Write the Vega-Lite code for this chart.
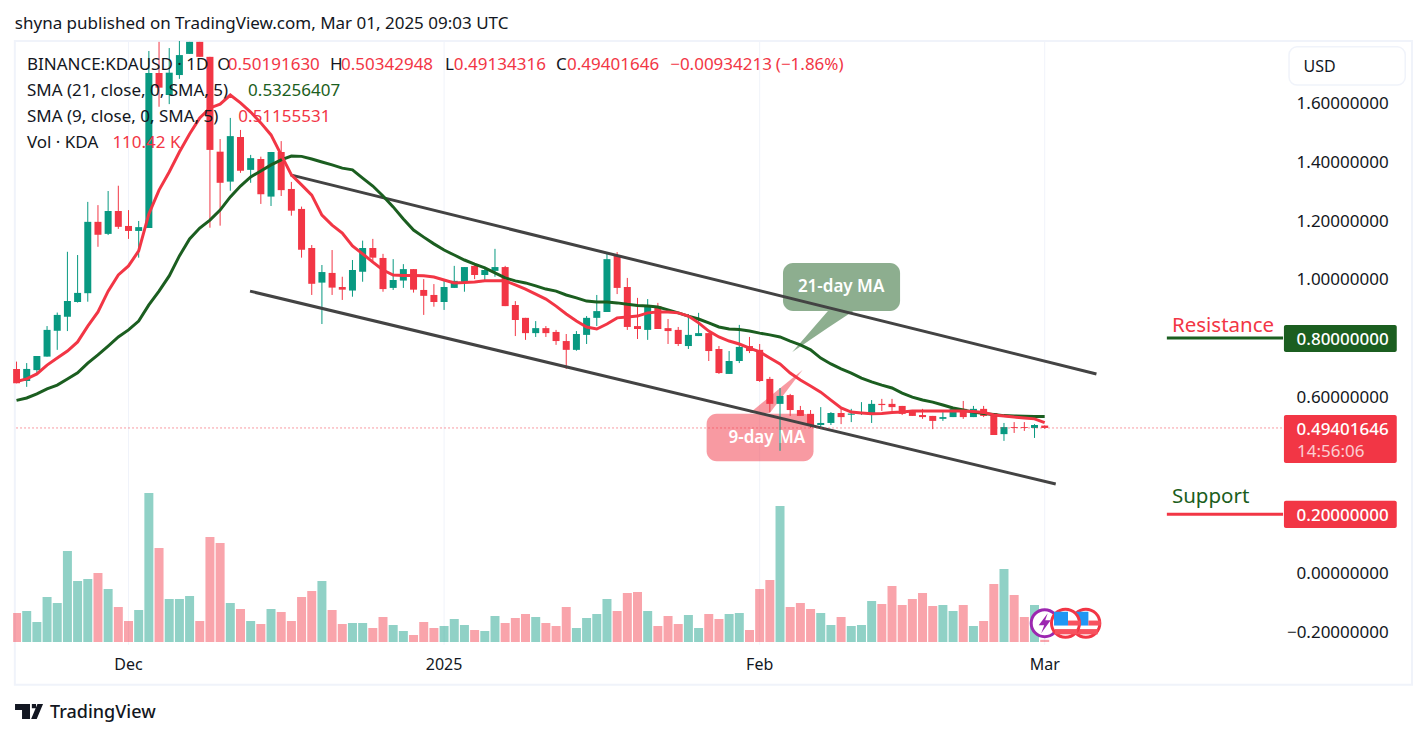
{
"$schema":"https://vega.github.io/schema/vega-lite/v6.json",
"width":1427,"height":738,"padding":0,
"autosize":{"type":"none"},
"background":"white",
"config":{"view":{"stroke":null},"axis":{"disable":true},"legend":{"disable":true},"text":{"font":"Noto Sans"}},
"datasets":{
"candles":[
{"date":"2024-11-20","open":0.695,"high":0.720,"low":0.646,"close":0.646,"volume":1450,"sma21":0.588,"sma9":0.652},
{"date":"2024-11-21","open":0.654,"high":0.715,"low":0.634,"close":0.695,"volume":1550,"sma21":0.596,"sma9":0.661},
{"date":"2024-11-22","open":0.691,"high":0.739,"low":0.674,"close":0.739,"volume":1000,"sma21":0.610,"sma9":0.678},
{"date":"2024-11-23","open":0.737,"high":0.841,"low":0.737,"close":0.828,"volume":2250,"sma21":0.627,"sma9":0.708},
{"date":"2024-11-24","open":0.825,"high":0.887,"low":0.760,"close":0.879,"volume":1950,"sma21":0.640,"sma9":0.732},
{"date":"2024-11-25","open":0.873,"high":1.094,"low":0.824,"close":0.926,"volume":4550,"sma21":0.661,"sma9":0.756},
{"date":"2024-11-26","open":0.923,"high":1.083,"low":0.921,"close":0.954,"volume":3050,"sma21":0.682,"sma9":0.787},
{"date":"2024-11-27","open":0.953,"high":1.264,"low":0.924,"close":1.196,"volume":3150,"sma21":0.715,"sma9":0.841},
{"date":"2024-11-28","open":1.196,"high":1.253,"low":1.111,"close":1.152,"volume":3450,"sma21":0.743,"sma9":0.889},
{"date":"2024-11-29","open":1.155,"high":1.301,"low":1.151,"close":1.233,"volume":2650,"sma21":0.773,"sma9":0.960},
{"date":"2024-11-30","open":1.233,"high":1.319,"low":1.172,"close":1.179,"volume":1750,"sma21":0.804,"sma9":1.015},
{"date":"2024-12-01","open":1.182,"high":1.236,"low":1.138,"close":1.165,"volume":1050,"sma21":0.828,"sma9":1.046},
{"date":"2024-12-02","open":1.165,"high":1.199,"low":1.074,"close":1.178,"volume":1600,"sma21":0.858,"sma9":1.097},
{"date":"2024-12-03","open":1.175,"high":1.778,"low":1.175,"close":1.703,"volume":7450,"sma21":0.913,"sma9":1.223},
{"date":"2024-12-04","open":1.703,"high":1.809,"low":1.588,"close":1.653,"volume":4700,"sma21":0.960,"sma9":1.304},
{"date":"2024-12-05","open":1.628,"high":1.788,"low":1.597,"close":1.704,"volume":2150,"sma21":1.012,"sma9":1.366},
{"date":"2024-12-06","open":1.696,"high":1.812,"low":1.683,"close":1.764,"volume":2150,"sma21":1.080,"sma9":1.434},
{"date":"2024-12-07","open":1.768,"high":1.809,"low":1.768,"close":1.809,"volume":2300,"sma21":1.138,"sma9":1.495},
{"date":"2024-12-08","open":1.809,"high":1.809,"low":1.758,"close":1.758,"volume":1050,"sma21":1.175,"sma9":1.550},
{"date":"2024-12-09","open":1.758,"high":1.758,"low":1.176,"close":1.441,"volume":5250,"sma21":1.202,"sma9":1.584},
{"date":"2024-12-10","open":1.435,"high":1.478,"low":1.183,"close":1.329,"volume":4950,"sma21":1.236,"sma9":1.597},
{"date":"2024-12-11","open":1.333,"high":1.550,"low":1.302,"close":1.488,"volume":1950,"sma21":1.281,"sma9":1.628},
{"date":"2024-12-12","open":1.485,"high":1.509,"low":1.363,"close":1.370,"volume":1650,"sma21":1.318,"sma9":1.601},
{"date":"2024-12-13","open":1.373,"high":1.424,"low":1.329,"close":1.413,"volume":1050,"sma21":1.349,"sma9":1.570},
{"date":"2024-12-14","open":1.410,"high":1.418,"low":1.257,"close":1.290,"volume":900,"sma21":1.369,"sma9":1.533},
{"date":"2024-12-15","open":1.282,"high":1.434,"low":1.250,"close":1.434,"volume":1650,"sma21":1.390,"sma9":1.492},
{"date":"2024-12-16","open":1.434,"high":1.471,"low":1.284,"close":1.304,"volume":1500,"sma21":1.407,"sma9":1.424},
{"date":"2024-12-17","open":1.308,"high":1.332,"low":1.217,"close":1.234,"volume":1050,"sma21":1.420,"sma9":1.356},
{"date":"2024-12-18","open":1.240,"high":1.248,"low":1.074,"close":1.101,"volume":2250,"sma21":1.419,"sma9":1.322},
{"date":"2024-12-19","open":1.107,"high":1.117,"low":0.947,"close":0.985,"volume":2550,"sma21":1.410,"sma9":1.287},
{"date":"2024-12-20","open":0.989,"high":1.049,"low":0.848,"close":1.025,"volume":3050,"sma21":1.400,"sma9":1.219},
{"date":"2024-12-21","open":1.022,"high":1.100,"low":0.947,"close":0.972,"volume":1600,"sma21":1.390,"sma9":1.185},
{"date":"2024-12-22","open":0.974,"high":1.009,"low":0.930,"close":0.965,"volume":900,"sma21":1.379,"sma9":1.158},
{"date":"2024-12-23","open":0.962,"high":1.066,"low":0.941,"close":1.032,"volume":950,"sma21":1.373,"sma9":1.114},
{"date":"2024-12-24","open":1.026,"high":1.132,"low":0.992,"close":1.107,"volume":950,"sma21":1.345,"sma9":1.087},
{"date":"2024-12-25","open":1.107,"high":1.138,"low":1.056,"close":1.074,"volume":700,"sma21":1.318,"sma9":1.059},
{"date":"2024-12-26","open":1.073,"high":1.087,"low":0.958,"close":0.967,"volume":1250,"sma21":1.284,"sma9":1.032},
{"date":"2024-12-27","open":0.971,"high":1.069,"low":0.964,"close":0.998,"volume":850,"sma21":1.247,"sma9":1.015},
{"date":"2024-12-28","open":0.996,"high":1.052,"low":0.971,"close":1.035,"volume":550,"sma21":1.206,"sma9":1.013},
{"date":"2024-12-29","open":1.035,"high":1.035,"low":0.955,"close":0.965,"volume":350,"sma21":1.168,"sma9":1.013},
{"date":"2024-12-30","open":0.964,"high":1.001,"low":0.879,"close":0.944,"volume":1000,"sma21":1.144,"sma9":1.012},
{"date":"2024-12-31","open":0.947,"high":0.984,"low":0.907,"close":0.923,"volume":700,"sma21":1.121,"sma9":1.008},
{"date":"2025-01-01","open":0.923,"high":0.995,"low":0.896,"close":0.974,"volume":800,"sma21":1.100,"sma9":0.998},
{"date":"2025-01-02","open":0.971,"high":1.046,"low":0.971,"close":0.995,"volume":1150,"sma21":1.083,"sma9":0.988},
{"date":"2025-01-03","open":0.991,"high":1.042,"low":0.958,"close":1.042,"volume":850,"sma21":1.066,"sma9":0.989},
{"date":"2025-01-04","open":1.046,"high":1.056,"low":1.001,"close":1.015,"volume":600,"sma21":1.052,"sma9":0.991},
{"date":"2025-01-05","open":1.015,"high":1.043,"low":0.996,"close":1.032,"volume":550,"sma21":1.039,"sma9":0.995},
{"date":"2025-01-06","open":1.029,"high":1.104,"low":1.009,"close":1.042,"volume":1300,"sma21":1.022,"sma9":0.995},
{"date":"2025-01-07","open":1.042,"high":1.046,"low":0.909,"close":0.909,"volume":950,"sma21":1.005,"sma9":0.995},
{"date":"2025-01-08","open":0.913,"high":0.926,"low":0.807,"close":0.862,"volume":1200,"sma21":0.995,"sma9":0.981},
{"date":"2025-01-09","open":0.869,"high":0.869,"low":0.794,"close":0.817,"volume":1400,"sma21":0.988,"sma9":0.967},
{"date":"2025-01-10","open":0.817,"high":0.858,"low":0.804,"close":0.834,"volume":1250,"sma21":0.978,"sma9":0.950},
{"date":"2025-01-11","open":0.834,"high":0.841,"low":0.804,"close":0.817,"volume":950,"sma21":0.967,"sma9":0.933},
{"date":"2025-01-12","open":0.821,"high":0.828,"low":0.777,"close":0.790,"volume":800,"sma21":0.960,"sma9":0.909},
{"date":"2025-01-13","open":0.790,"high":0.814,"low":0.695,"close":0.760,"volume":1750,"sma21":0.947,"sma9":0.882},
{"date":"2025-01-14","open":0.760,"high":0.824,"low":0.757,"close":0.814,"volume":700,"sma21":0.937,"sma9":0.858},
{"date":"2025-01-15","open":0.811,"high":0.875,"low":0.780,"close":0.869,"volume":1200,"sma21":0.926,"sma9":0.838},
{"date":"2025-01-16","open":0.869,"high":0.947,"low":0.841,"close":0.892,"volume":1400,"sma21":0.923,"sma9":0.831},
{"date":"2025-01-17","open":0.889,"high":1.087,"low":0.889,"close":1.069,"volume":2150,"sma21":0.923,"sma9":0.848},
{"date":"2025-01-18","open":1.083,"high":1.093,"low":0.950,"close":0.971,"volume":1550,"sma21":0.920,"sma9":0.869},
{"date":"2025-01-19","open":0.974,"high":1.005,"low":0.828,"close":0.838,"volume":2450,"sma21":0.915,"sma9":0.872},
{"date":"2025-01-20","open":0.841,"high":0.937,"low":0.797,"close":0.831,"volume":2500,"sma21":0.911,"sma9":0.875},
{"date":"2025-01-21","open":0.828,"high":0.933,"low":0.794,"close":0.909,"volume":1550,"sma21":0.909,"sma9":0.886},
{"date":"2025-01-22","open":0.909,"high":0.920,"low":0.831,"close":0.831,"volume":800,"sma21":0.906,"sma9":0.889},
{"date":"2025-01-23","open":0.834,"high":0.865,"low":0.780,"close":0.824,"volume":1300,"sma21":0.896,"sma9":0.889},
{"date":"2025-01-24","open":0.828,"high":0.838,"low":0.773,"close":0.780,"volume":900,"sma21":0.886,"sma9":0.886},
{"date":"2025-01-25","open":0.773,"high":0.882,"low":0.763,"close":0.811,"volume":1350,"sma21":0.875,"sma9":0.875},
{"date":"2025-01-26","open":0.807,"high":0.886,"low":0.807,"close":0.817,"volume":700,"sma21":0.865,"sma9":0.852},
{"date":"2025-01-27","open":0.817,"high":0.817,"low":0.722,"close":0.756,"volume":1400,"sma21":0.852,"sma9":0.824},
{"date":"2025-01-28","open":0.763,"high":0.773,"low":0.678,"close":0.681,"volume":1150,"sma21":0.838,"sma9":0.804},
{"date":"2025-01-29","open":0.678,"high":0.756,"low":0.678,"close":0.722,"volume":1400,"sma21":0.831,"sma9":0.790},
{"date":"2025-01-30","open":0.722,"high":0.845,"low":0.715,"close":0.770,"volume":1450,"sma21":0.829,"sma9":0.780},
{"date":"2025-01-31","open":0.773,"high":0.804,"low":0.749,"close":0.756,"volume":600,"sma21":0.824,"sma9":0.766},
{"date":"2025-02-01","open":0.760,"high":0.780,"low":0.651,"close":0.654,"volume":2650,"sma21":0.817,"sma9":0.753},
{"date":"2025-02-02","open":0.661,"high":0.668,"low":0.548,"close":0.576,"volume":3100,"sma21":0.811,"sma9":0.732},
{"date":"2025-02-03","open":0.576,"high":0.630,"low":0.416,"close":0.603,"volume":6800,"sma21":0.804,"sma9":0.712},
{"date":"2025-02-04","open":0.606,"high":0.610,"low":0.535,"close":0.555,"volume":1750,"sma21":0.790,"sma9":0.681},
{"date":"2025-02-05","open":0.555,"high":0.569,"low":0.535,"close":0.535,"volume":1950,"sma21":0.777,"sma9":0.657},
{"date":"2025-02-06","open":0.542,"high":0.555,"low":0.494,"close":0.504,"volume":1650,"sma21":0.760,"sma9":0.637},
{"date":"2025-02-07","open":0.504,"high":0.565,"low":0.490,"close":0.511,"volume":1450,"sma21":0.732,"sma9":0.616},
{"date":"2025-02-08","open":0.511,"high":0.548,"low":0.504,"close":0.545,"volume":850,"sma21":0.712,"sma9":0.589},
{"date":"2025-02-09","open":0.545,"high":0.559,"low":0.507,"close":0.531,"volume":1250,"sma21":0.695,"sma9":0.562},
{"date":"2025-02-10","open":0.539,"high":0.559,"low":0.514,"close":0.543,"volume":800,"sma21":0.681,"sma9":0.548},
{"date":"2025-02-11","open":0.542,"high":0.582,"low":0.538,"close":0.545,"volume":850,"sma21":0.664,"sma9":0.545},
{"date":"2025-02-12","open":0.542,"high":0.589,"low":0.511,"close":0.576,"volume":2050,"sma21":0.651,"sma9":0.542},
{"date":"2025-02-13","open":0.576,"high":0.593,"low":0.552,"close":0.572,"volume":1900,"sma21":0.640,"sma9":0.543},
{"date":"2025-02-14","open":0.576,"high":0.593,"low":0.552,"close":0.565,"volume":2800,"sma21":0.630,"sma9":0.547},
{"date":"2025-02-15","open":0.569,"high":0.569,"low":0.538,"close":0.542,"volume":1850,"sma21":0.613,"sma9":0.548},
{"date":"2025-02-16","open":0.552,"high":0.552,"low":0.535,"close":0.535,"volume":2150,"sma21":0.599,"sma9":0.552},
{"date":"2025-02-17","open":0.538,"high":0.559,"low":0.525,"close":0.531,"volume":2450,"sma21":0.589,"sma9":0.552},
{"date":"2025-02-18","open":0.535,"high":0.535,"low":0.490,"close":0.518,"volume":1800,"sma21":0.582,"sma9":0.552},
{"date":"2025-02-19","open":0.525,"high":0.548,"low":0.518,"close":0.531,"volume":1850,"sma21":0.572,"sma9":0.552},
{"date":"2025-02-20","open":0.531,"high":0.559,"low":0.531,"close":0.559,"volume":1550,"sma21":0.562,"sma9":0.552},
{"date":"2025-02-21","open":0.559,"high":0.586,"low":0.525,"close":0.531,"volume":1850,"sma21":0.555,"sma9":0.552},
{"date":"2025-02-22","open":0.531,"high":0.569,"low":0.531,"close":0.559,"volume":800,"sma21":0.548,"sma9":0.550},
{"date":"2025-02-23","open":0.559,"high":0.569,"low":0.531,"close":0.535,"volume":1050,"sma21":0.543,"sma9":0.547},
{"date":"2025-02-24","open":0.545,"high":0.545,"low":0.470,"close":0.470,"volume":2900,"sma21":0.540,"sma9":0.538},
{"date":"2025-02-25","open":0.473,"high":0.511,"low":0.450,"close":0.497,"volume":3650,"sma21":0.536,"sma9":0.535},
{"date":"2025-02-26","open":0.497,"high":0.514,"low":0.477,"close":0.494,"volume":2350,"sma21":0.535,"sma9":0.531},
{"date":"2025-02-27","open":0.497,"high":0.514,"low":0.484,"close":0.494,"volume":1250,"sma21":0.534,"sma9":0.528},
{"date":"2025-02-28","open":0.494,"high":0.507,"low":0.460,"close":0.504,"volume":1850,"sma21":0.533,"sma9":0.525},
{"date":"2025-03-01","open":0.502,"high":0.503,"low":0.491,"close":0.494,"volume":110.42,"sma21":0.533,"sma9":0.512}
],
"frame":[{"date":"2024-11-19T20:00:00Z","date2":"2025-04-06T02:00:00Z","price":1.812,"price2":-0.381}],
"gridX":[
{"date":"2024-12-01","price":1.812,"price2":-0.245},
{"date":"2025-01-01","price":1.812,"price2":-0.245},
{"date":"2025-02-01","price":1.812,"price2":-0.245},
{"date":"2025-03-01","price":1.812,"price2":-0.245}],
"gridY":[{"price":1.8},{"price":1.6},{"price":1.4},{"price":1.2},{"price":1.0},{"price":0.8},{"price":0.6},{"price":0.4},{"price":0.2},{"price":0.0},{"price":-0.2}],
"boxes":[
{"name":"21-day MA","date":"2025-02-03T07:00:00Z","date2":"2025-02-14T19:00:00Z","price":1.056,"price2":0.892},
{"name":"9-day MA","date":"2025-01-26T19:00:00Z","date2":"2025-02-06T07:00:00Z","price":0.542,"price2":0.381}],
"tails":[
{"name":"21-day MA","date":"2025-02-04T05:00:00Z","price":0.753,"price2":0.753},
{"name":"21-day MA","date":"2025-02-07T17:00:00Z","price":0.892,"price2":0.835},
{"name":"21-day MA","date":"2025-02-10T05:00:00Z","price":0.892,"price2":0.892},
{"name":"9-day MA","date":"2025-01-31T01:00:00Z","price":0.545,"price2":0.545},
{"name":"9-day MA","date":"2025-02-02T00:00:00Z","price":0.601,"price2":0.545},
{"name":"9-day MA","date":"2025-02-05T05:00:00Z","price":0.691,"price2":0.691}],
"boxText":[
{"date":"2025-02-09T00:00:00Z","price":0.974,"label":"21-day MA"},
{"date":"2025-02-01T17:00:00Z","price":0.460,"label":"9-day MA"}],
"channel":[
{"name":"upper","date":"2024-12-16T22:00:00Z","price":1.356},
{"name":"upper","date":"2025-03-06T02:00:00Z","price":0.678},
{"name":"lower","date":"2024-12-12T22:30:00Z","price":0.960},
{"name":"lower","date":"2025-03-02T02:00:00Z","price":0.303}],
"levels":[
{"name":"Resistance","date":"2025-03-13T00:00:00Z","date2":"2025-03-24T10:00:00Z","price":0.8},
{"name":"Support","date":"2025-03-13T00:00:00Z","date2":"2025-03-24T10:00:00Z","price":0.2}],
"last":[{"date":"2024-11-20","date2":"2025-03-24T10:00:00Z","price":0.494}],
"mask":[{"date":"2024-11-18T10:00:00Z","date2":"2024-11-19T16:00:00Z","price":1.81,"price2":-0.245}],
"tags":[
{"name":"Resistance","date":"2025-03-24T12:00:00Z","date2":"2025-04-04T14:00:00Z","price":0.845,"price2":0.753},
{"name":"Last","date":"2025-03-24T12:00:00Z","date2":"2025-04-04T14:00:00Z","price":0.538,"price2":0.375},
{"name":"Support","date":"2025-03-24T12:00:00Z","date2":"2025-04-04T14:00:00Z","price":0.246,"price2":0.153}],
"usdBox":[{"date":"2025-03-25T00:00:00Z","date2":"2025-04-05T10:00:00Z","price":1.792,"price2":1.662}],
"levelText":[
{"date":"2025-03-13T12:00:00Z","price":0.841,"label":"Resistance"},
{"date":"2025-03-13T12:00:00Z","price":0.259,"label":"Support"}],
"axisY":[
{"date":"2025-04-03T19:00:00Z","price":1.6,"label":"1.60000000"},
{"date":"2025-04-03T19:00:00Z","price":1.4,"label":"1.40000000"},
{"date":"2025-04-03T19:00:00Z","price":1.2,"label":"1.20000000"},
{"date":"2025-04-03T19:00:00Z","price":1.0,"label":"1.00000000"},
{"date":"2025-04-03T19:00:00Z","price":0.6,"label":"0.60000000"},
{"date":"2025-04-03T19:00:00Z","price":0.0,"label":"0.00000000"},
{"date":"2025-04-03T19:00:00Z","price":-0.2,"label":"−0.20000000"}],
"tagText":[
{"date":"2025-04-03T19:00:00Z","price":0.797,"label":"0.80000000"},
{"date":"2025-04-03T19:00:00Z","price":0.490,"label":"0.49401646"},
{"date":"2025-04-03T19:00:00Z","price":0.198,"label":"0.20000000"}],
"countdown":[{"date":"2025-03-25T19:00:00Z","price":0.4155,"label":"14:56:06"}],
"axisX":[
{"date":"2024-12-01","price":-0.31,"label":"Dec"},
{"date":"2025-01-01","price":-0.31,"label":"2025"},
{"date":"2025-02-01","price":-0.31,"label":"Feb"},
{"date":"2025-03-01","price":-0.31,"label":"Mar"}],
"usdText":[{"date":"2025-03-26T10:00:00Z","price":1.727,"label":"USD"}],
"legendText":[
{"date":"2024-11-19T20:00:00Z","price":1.873,"label":"shyna published on TradingView.com, Mar 01, 2025 09:03 UTC","role":"dark"},
{"date":"2024-11-21T00:30:00Z","price":1.734,"label":"BINANCE:KDAUSD · 1D","role":"dark"},
{"date":"2024-12-09T17:00:00Z","price":1.734,"label":"O","role":"dark"},
{"date":"2024-12-10T18:00:00Z","price":1.734,"label":"0.50191630","role":"red"},
{"date":"2024-12-20T19:00:00Z","price":1.734,"label":"H","role":"dark"},
{"date":"2024-12-21T21:00:00Z","price":1.734,"label":"0.50342948","role":"red"},
{"date":"2025-01-01T02:00:00Z","price":1.734,"label":"L","role":"dark"},
{"date":"2025-01-01T23:00:00Z","price":1.734,"label":"0.49134316","role":"red"},
{"date":"2025-01-12T00:00:00Z","price":1.734,"label":"C","role":"dark"},
{"date":"2025-01-13T02:00:00Z","price":1.734,"label":"0.49401646","role":"red"},
{"date":"2025-01-23T05:00:00Z","price":1.734,"label":"−0.00934213","role":"red"},
{"date":"2025-02-02T14:00:00Z","price":1.734,"label":"(−1.86%)","role":"red"},
{"date":"2024-11-21T00:30:00Z","price":1.645,"label":"SMA (21, close, 0, SMA, 5)","role":"dark"},
{"date":"2024-12-12T18:00:00Z","price":1.645,"label":"0.53256407","role":"green"},
{"date":"2024-11-21T00:30:00Z","price":1.557,"label":"SMA (9, close, 0, SMA, 5)","role":"dark"},
{"date":"2024-12-11T19:00:00Z","price":1.557,"label":"0.51155531","role":"red"},
{"date":"2024-11-21T00:30:00Z","price":1.468,"label":"Vol · KDA","role":"dark"},
{"date":"2024-11-29T10:00:00Z","price":1.468,"label":"110.42 K","role":"red"}],
"icons":[
{"name":"flag2","date":"2025-03-05T01:00:00Z","price":-0.171},
{"name":"bolt","date":"2025-03-01T00:00:00Z","price":-0.171},
{"name":"flag1","date":"2025-03-03T01:00:00Z","price":-0.171}],
"flagParts":[
{"flag":"flag2","part":"blue","date":"2025-03-03T22:00:00Z","date2":"2025-03-05T07:00:00Z","price":-0.132,"price2":-0.179},
{"flag":"flag2","part":"red","date":"2025-03-05T07:00:00Z","date2":"2025-03-06T12:00:00Z","price":-0.162,"price2":-0.179},
{"flag":"flag2","part":"red","date":"2025-03-04T00:00:00Z","date2":"2025-03-06T05:00:00Z","price":-0.191,"price2":-0.209},
{"flag":"flag1","part":"blue","date":"2025-03-01T22:00:00Z","date2":"2025-03-03T07:00:00Z","price":-0.132,"price2":-0.179},
{"flag":"flag1","part":"red","date":"2025-03-03T07:00:00Z","date2":"2025-03-04T12:00:00Z","price":-0.162,"price2":-0.179},
{"flag":"flag1","part":"red","date":"2025-03-02T00:00:00Z","date2":"2025-03-04T05:00:00Z","price":-0.191,"price2":-0.209}],
"logo":[{"date":"2024-11-21T05:30:00Z","price":-0.470}],
"logoText":[{"date":"2024-11-23T07:00:00Z","price":-0.477,"label":"TradingView"}]
},
"encoding":{"x":{"field":"date","type":"temporal","scale":{"type":"utc","padding":0,"domain":[1731920590945,1744031868155]}}},
"resolve":{"scale":{"y":"independent"}},
"layer":[
{"encoding":{"y":{"field":"price","type":"quantitative","scale":{"domain":[-0.562,1.9516],"zero":false,"nice":false}}},
 "layer":[
 {"data":{"name":"frame","format":{"parse":{"date":"date","date2":"date"}}},"mark":{"type":"rect","fill":"white","stroke":"#f0f3fa","strokeWidth":2},"encoding":{"x2":{"field":"date2"},"y2":{"field":"price2"}}},
 {"data":{"name":"gridX"},"mark":{"type":"rule","stroke":"#f0f3fa","strokeWidth":1},"encoding":{"y2":{"field":"price2"}}},
 {"data":{"name":"gridY"},"mark":{"type":"rule","stroke":"#f0f3fa","strokeWidth":1},"encoding":{"x":{"datum":{"year":2024,"month":11,"date":20}},"x2":{"datum":{"year":2025,"month":3,"date":24}}}}
 ]},
{"data":{"name":"candles"},"mark":{"type":"bar","width":9,"opacity":0.45},
 "encoding":{"y":{"field":"volume","type":"quantitative","scale":{"domain":[0,32100],"range":[642,0],"zero":false,"nice":false}},
 "color":{"condition":{"test":"datum.close>=datum.open","value":"#089981"},"value":"#F23645"}}},
{"encoding":{"y":{"field":"price","type":"quantitative","scale":{"domain":[-0.562,1.9516],"zero":false,"nice":false}}},
 "resolve":{"scale":{"color":"independent"}},
 "layer":[
 {"data":{"name":"boxes","format":{"parse":{"date":"date","date2":"date"}}},"mark":{"type":"rect","cornerRadius":10,"opacity":0.5},"encoding":{"x2":{"field":"date2"},"y2":{"field":"price2"},"color":{"field":"name","type":"nominal","scale":{"domain":["21-day MA","9-day MA"],"range":["#1b5e20","#F23645"]}}}},
 {"data":{"name":"tails"},"mark":{"type":"area","opacity":0.5},"encoding":{"y2":{"field":"price2"},"color":{"field":"name","type":"nominal","scale":{"domain":["21-day MA","9-day MA"],"range":["#1b5e20","#F23645"]}}}},
 {"data":{"name":"boxText"},"mark":{"type":"text","fontSize":17,"fontWeight":600,"color":"white"},"encoding":{"text":{"field":"label"}}},
 {"data":{"name":"candles"},"mark":{"type":"rule","strokeWidth":1},"encoding":{"y":{"field":"low","type":"quantitative"},"y2":{"field":"high"},"color":{"condition":{"test":"datum.close>=datum.open","value":"#089981"},"value":"#F23645"}}},
 {"data":{"name":"candles"},"mark":{"type":"bar","width":7},"encoding":{"y":{"field":"open","type":"quantitative"},"y2":{"field":"close"},"color":{"condition":{"test":"datum.close>=datum.open","value":"#089981"},"value":"#F23645"}}},
 {"data":{"name":"mask","format":{"parse":{"date":"date","date2":"date"}}},"mark":{"type":"rect","fill":"white"},"encoding":{"x2":{"field":"date2"},"y2":{"field":"price2"}}},
 {"data":{"name":"channel"},"mark":{"type":"line","stroke":"#434343","strokeWidth":3},"encoding":{"detail":{"field":"name"}}},
 {"data":{"name":"candles"},"mark":{"type":"line","stroke":"#1b5e20","strokeWidth":3},"encoding":{"y":{"field":"sma21","type":"quantitative"}}},
 {"data":{"name":"candles"},"mark":{"type":"line","stroke":"#F23645","strokeWidth":3},"encoding":{"y":{"field":"sma9","type":"quantitative"}}},
 {"data":{"name":"last","format":{"parse":{"date":"date","date2":"date"}}},"mark":{"type":"rule","stroke":"#F23645","strokeWidth":1,"strokeDash":[1,3]},"encoding":{"x2":{"field":"date2"}}},
 {"data":{"name":"levels","format":{"parse":{"date":"date","date2":"date"}}},"mark":{"type":"rule","strokeWidth":3},"encoding":{"x2":{"field":"date2"},"color":{"field":"name","type":"nominal","scale":{"domain":["Resistance","Support"],"range":["#1b5e20","#F23645"]}}}},
 {"data":{"name":"tags","format":{"parse":{"date":"date","date2":"date"}}},"mark":{"type":"rect","cornerRadius":2},"encoding":{"x2":{"field":"date2"},"y2":{"field":"price2"},"color":{"field":"name","type":"nominal","scale":{"domain":["Resistance","Last","Support"],"range":["#1b5e20","#F23645","#F23645"]}}}},
 {"data":{"name":"usdBox","format":{"parse":{"date":"date","date2":"date"}}},"mark":{"type":"rect","cornerRadius":8,"fill":"white","stroke":"#f0f3fa","strokeWidth":1.5},"encoding":{"x2":{"field":"date2"},"y2":{"field":"price2"}}},
 {"data":{"name":"levelText"},"mark":{"type":"text","align":"left","fontSize":20.5},"encoding":{"text":{"field":"label"},"color":{"field":"label","type":"nominal","scale":{"domain":["Resistance","Support"],"range":["#F23645","#1b5e20"]}}}},
 {"data":{"name":"axisY"},"mark":{"type":"text","align":"right","fontSize":17,"dy":1,"color":"#131722"},"encoding":{"text":{"field":"label"}}},
 {"data":{"name":"tagText"},"mark":{"type":"text","align":"right","fontSize":17,"fontWeight":500,"dy":1,"color":"white"},"encoding":{"text":{"field":"label"}}},
 {"data":{"name":"countdown"},"mark":{"type":"text","align":"left","fontSize":17,"dy":1,"color":"white","opacity":0.75},"encoding":{"text":{"field":"label"}}},
 {"data":{"name":"axisX"},"mark":{"type":"text","fontSize":16,"dy":1,"color":"#131722"},"encoding":{"text":{"field":"label"}}},
 {"data":{"name":"usdText"},"mark":{"type":"text","align":"left","fontSize":16,"dy":1,"color":"#131722"},"encoding":{"text":{"field":"label"}}},
 {"data":{"name":"legendText"},"mark":{"type":"text","align":"left","fontSize":17,"dy":1},"encoding":{"text":{"field":"label"},"color":{"field":"role","type":"nominal","scale":{"domain":["dark","red","green"],"range":["#131722","#F23645","#1b5e20"]}}}},
 {"data":{"name":"icons"},"transform":[{"filter":"datum.name=='flag2'"}],"mark":{"type":"point","filled":true,"fill":"white","stroke":"#F23645","strokeWidth":3,"opacity":1,"shape":"circle","size":784}},
 {"data":{"name":"flagParts","format":{"parse":{"date":"date","date2":"date"}}},"transform":[{"filter":"datum.flag=='flag2'"}],"mark":{"type":"rect"},"encoding":{"x2":{"field":"date2"},"y2":{"field":"price2"},"color":{"field":"part","type":"nominal","scale":{"domain":["blue","red"],"range":["#2196f3","#f7525f"]}}}},
 {"data":{"name":"icons"},"transform":[{"filter":"datum.name=='bolt'"}],"mark":{"type":"point","filled":true,"fill":"white","stroke":"#9c27b0","strokeWidth":3,"opacity":1,"shape":"circle","size":729}},
 {"data":{"name":"icons"},"transform":[{"filter":"datum.name=='bolt'"}],"mark":{"type":"point","filled":true,"fill":"#9c27b0","strokeWidth":0,"opacity":1,"shape":"M0.3,-1 L-0.6,0.2 L-0.05,0.2 L-0.35,1 L0.6,-0.3 L0.05,-0.3 Z","size":400}},
 {"data":{"name":"icons"},"transform":[{"filter":"datum.name=='flag1'"}],"mark":{"type":"point","filled":true,"fill":"white","stroke":"#F23645","strokeWidth":3,"opacity":1,"shape":"circle","size":784}},
 {"data":{"name":"flagParts","format":{"parse":{"date":"date","date2":"date"}}},"transform":[{"filter":"datum.flag=='flag1'"}],"mark":{"type":"rect"},"encoding":{"x2":{"field":"date2"},"y2":{"field":"price2"},"color":{"field":"part","type":"nominal","scale":{"domain":["blue","red"],"range":["#2196f3","#f7525f"]}}}},
 {"data":{"name":"logo"},"mark":{"type":"point","filled":true,"fill":"#131722","strokeWidth":0,"opacity":1,"shape":"M-1,-0.5 L0.07,-0.5 L0.07,0.57 L-0.5,0.57 L-0.5,-0.07 L-1,-0.07 Z M0.2,-0.5 L0.5,-0.5 L0.5,-0.2 L0.2,-0.2 Z M0.6,-0.5 L1,-0.5 L0.55,0.57 L0.15,0.57 Z","size":784}},
 {"data":{"name":"logoText"},"mark":{"type":"text","align":"left","fontSize":18,"fontWeight":500,"color":"#131722"},"encoding":{"text":{"field":"label"}}}
 ]}
]
}
